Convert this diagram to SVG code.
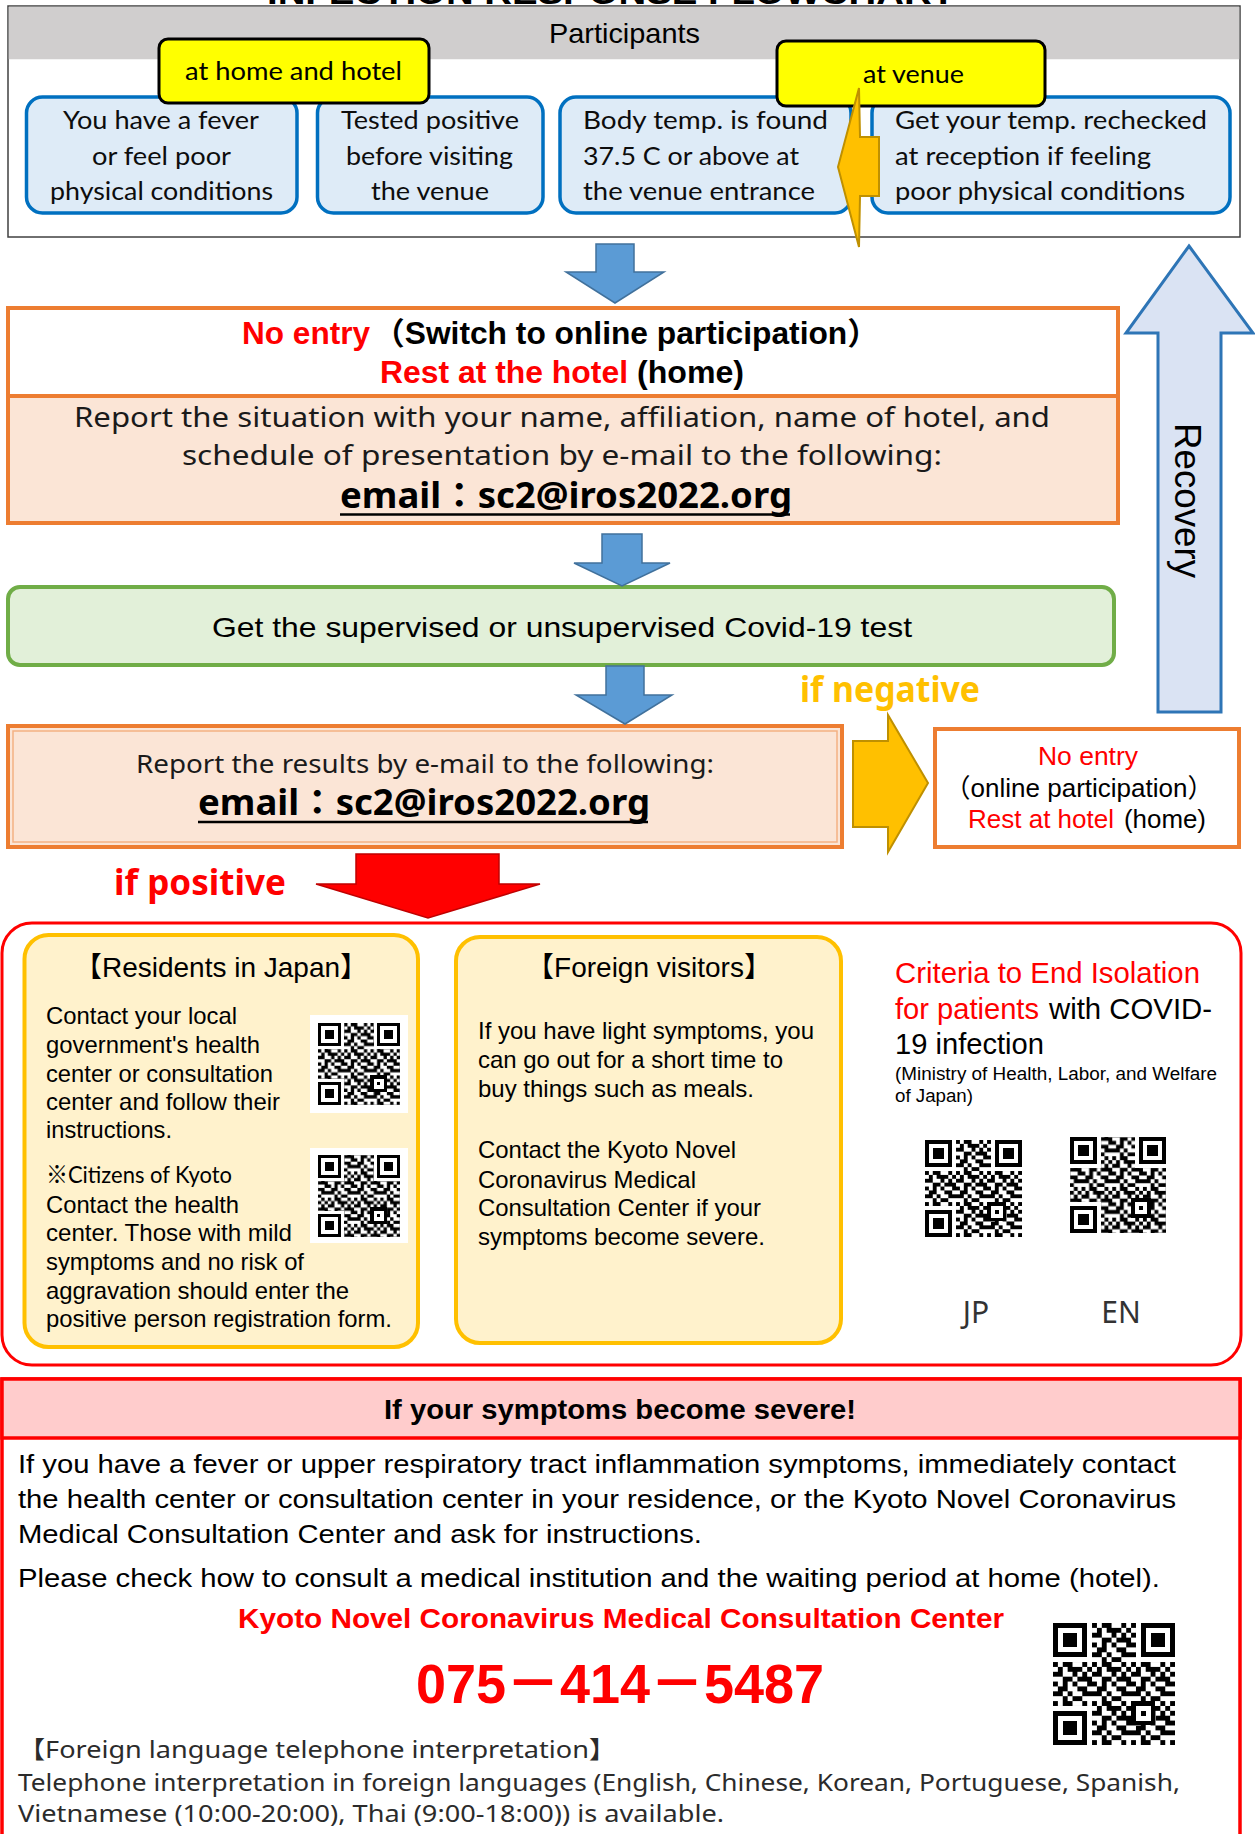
<svg xmlns="http://www.w3.org/2000/svg" width="1255" height="1834" viewBox="0 0 1255 1834">
<style>
.ar{font-family:"Liberation Sans",Arial,"Noto Sans CJK JP",sans-serif}
.cal{font-family:Lato,"Open Sans","Noto Sans CJK JP",sans-serif}
.ns{font-family:"Noto Sans","Noto Sans CJK JP",sans-serif}
.b{font-weight:bold}
.red{fill:#FF0000}
.bluebox{fill:#DEEBF7;stroke:#0070C0;stroke-width:3.5}
.ylabel{fill:#FFFF00;stroke:#000;stroke-width:3}
.tb{font-size:25px;fill:#0D0D0D}
.res{font-size:24px;fill:#000}
.ybox{fill:#FFF2CC;stroke:#FFC000;stroke-width:4}
.barrow{fill:#5B9BD5;stroke:#41719C;stroke-width:1.5}
.yarrow{fill:#FFC000;stroke:#BF9000;stroke-width:2}
.gray{fill:#2b2b2b}
</style>
<defs>
<pattern id="qp1" width="8" height="8" patternUnits="userSpaceOnUse">
<path d="M0 0h1v1h-1z M2 0h2v1h-2z M6 0h1v1h-1z M1 1h1v1h-1z M3 1h3v1h-3z M7 1h1v1h-1z M0 2h2v1h-2z M4 2h1v1h-1z M6 2h1v1h-1z M2 3h2v1h-2z M5 3h3v1h-3z M0 4h1v1h-1z M2 4h1v1h-1z M4 4h1v1h-1z M7 4h1v1h-1z M1 5h2v1h-2z M5 5h2v1h-2z M0 6h2v1h-2z M3 6h1v1h-1z M6 6h2v1h-2z M2 7h1v1h-1z M4 7h2v1h-2z" fill="#000"/>
</pattern>
<pattern id="qp2" width="8" height="8" patternUnits="userSpaceOnUse" patternTransform="translate(3 5)">
<path d="M0 0h1v1h-1z M2 0h2v1h-2z M6 0h1v1h-1z M1 1h1v1h-1z M3 1h3v1h-3z M7 1h1v1h-1z M0 2h2v1h-2z M4 2h1v1h-1z M6 2h1v1h-1z M2 3h2v1h-2z M5 3h3v1h-3z M0 4h1v1h-1z M2 4h1v1h-1z M4 4h1v1h-1z M7 4h1v1h-1z M1 5h2v1h-2z M5 5h2v1h-2z M0 6h2v1h-2z M3 6h1v1h-1z M6 6h2v1h-2z M2 7h1v1h-1z M4 7h2v1h-2z" fill="#000"/>
</pattern>
<symbol id="qrA" viewBox="0 0 25 25" shape-rendering="crispEdges">
<rect width="25" height="25" fill="#fff"/>
<rect width="25" height="25" fill="url(#qp1)"/>
<path d="M0 0h8v8h-8z M17 0h8v8h-8z M0 17h8v8h-8z M16 16h5v5h-5z" fill="#fff"/>
<path fill="#000" fill-rule="evenodd" d="M0 0h7v7h-7z M1 1h5v5h-5z M2 2h3v3h-3z M18 0h7v7h-7z M19 1h5v5h-5z M20 2h3v3h-3z M0 18h7v7h-7z M1 19h5v5h-5z M2 20h3v3h-3z M16 16h5v5h-5z M17 17h3v3h-3z M18 18h1v1h-1z"/>
</symbol>
<symbol id="qrB" viewBox="0 0 25 25" shape-rendering="crispEdges">
<rect width="25" height="25" fill="#fff"/>
<rect width="25" height="25" fill="url(#qp2)"/>
<path d="M0 0h8v8h-8z M17 0h8v8h-8z M0 17h8v8h-8z M16 16h5v5h-5z" fill="#fff"/>
<path fill="#000" fill-rule="evenodd" d="M0 0h7v7h-7z M1 1h5v5h-5z M2 2h3v3h-3z M18 0h7v7h-7z M19 1h5v5h-5z M20 2h3v3h-3z M0 18h7v7h-7z M1 19h5v5h-5z M2 20h3v3h-3z M16 16h5v5h-5z M17 17h3v3h-3z M18 18h1v1h-1z"/>
</symbol>
</defs>

<rect width="1255" height="1834" fill="#fff"/>

<text class="ar b" x="267" y="4" font-size="34" textLength="688" lengthAdjust="spacingAndGlyphs">INFECTION RESPONSE FLOWCHART</text>

<g id="participants">
<rect x="8" y="6" width="1232" height="231" fill="#fff" stroke="#404040" stroke-width="1.5"/>
<rect x="8.75" y="6.75" width="1230.5" height="52.5" fill="#D0CECE"/>
<text class="ar" x="549" y="43" font-size="28" textLength="151" lengthAdjust="spacingAndGlyphs">Participants</text>
</g>

<g id="node-fever">
<rect class="bluebox" x="26.5" y="97" width="270.5" height="116" rx="16"/>
<text class="cal tb" x="63" y="129" textLength="196" lengthAdjust="spacingAndGlyphs">You have a fever</text>
<text class="cal tb" x="92" y="165" textLength="139" lengthAdjust="spacingAndGlyphs">or feel poor</text>
<text class="cal tb" x="50" y="200" textLength="223" lengthAdjust="spacingAndGlyphs">physical conditions</text>
</g>
<g id="node-tested">
<rect class="bluebox" x="317.5" y="97" width="225.5" height="116" rx="16"/>
<text class="cal tb" x="341" y="129" textLength="178" lengthAdjust="spacingAndGlyphs">Tested positive</text>
<text class="cal tb" x="346" y="165" textLength="167" lengthAdjust="spacingAndGlyphs">before visiting</text>
<text class="cal tb" x="371" y="200" textLength="118" lengthAdjust="spacingAndGlyphs">the venue</text>
</g>
<g id="node-bodytemp">
<rect class="bluebox" x="560" y="97" width="291" height="116" rx="16"/>
<text class="cal tb" x="583" y="129" textLength="245" lengthAdjust="spacingAndGlyphs">Body temp. is  found</text>
<text class="cal tb" x="583" y="165" textLength="216" lengthAdjust="spacingAndGlyphs">37.5 C or above at</text>
<text class="cal tb" x="583" y="200" textLength="232" lengthAdjust="spacingAndGlyphs">the venue entrance</text>
</g>
<g id="node-recheck">
<rect class="bluebox" x="872" y="97" width="358" height="116" rx="16"/>
<text class="cal tb" x="895" y="129" textLength="312" lengthAdjust="spacingAndGlyphs">Get your temp. rechecked</text>
<text class="cal tb" x="895" y="165" textLength="256" lengthAdjust="spacingAndGlyphs">at reception if feeling</text>
<text class="cal tb" x="895" y="200" textLength="290" lengthAdjust="spacingAndGlyphs">poor physical conditions</text>
</g>
<g id="label-home">
<rect class="ylabel" x="159" y="39" width="270" height="64" rx="9"/>
<text class="cal" x="185" y="80" font-size="25" textLength="217" lengthAdjust="spacingAndGlyphs">at home and hotel</text>
</g>
<g id="label-venue">
<rect class="ylabel" x="777" y="41" width="268" height="65" rx="9"/>
<text class="cal" x="863" y="83" font-size="25" textLength="101" lengthAdjust="spacingAndGlyphs">at venue</text>
</g>

<g id="node-noentry">
<rect x="8" y="308" width="1110" height="88" fill="#fff" stroke="#ED7D31" stroke-width="4"/>
<rect x="8" y="396" width="1110" height="127" fill="#FBE5D6" stroke="#ED7D31" stroke-width="4"/>
<text class="ar b red" x="242" y="344" font-size="31" textLength="128" lengthAdjust="spacingAndGlyphs">No entry</text>
<text class="ar b" x="373" y="344" font-size="31" textLength="506" lengthAdjust="spacingAndGlyphs">（Switch to online participation）</text>
<text class="ar b red" x="380" y="383" font-size="31" textLength="248" lengthAdjust="spacingAndGlyphs">Rest at the hotel</text>
<text class="ar b" x="637" y="383" font-size="31" textLength="107" lengthAdjust="spacingAndGlyphs">(home)</text>
<text class="ns" x="74" y="427" font-size="28" fill="#1a1a1a" textLength="976" lengthAdjust="spacingAndGlyphs">Report the situation with your name, affiliation, name of hotel, and</text>
<text class="ns" x="182" y="465" font-size="28" fill="#1a1a1a" textLength="760" lengthAdjust="spacingAndGlyphs">schedule of presentation by e-mail to the following:</text>
<text class="ns b" x="340" y="508" font-size="35" textLength="452" lengthAdjust="spacingAndGlyphs">email：sc2@iros2022.org</text>
<line x1="340" y1="514.5" x2="790" y2="514.5" stroke="#000" stroke-width="2.5"/>
</g>

<g id="node-test">
<rect x="8" y="587" width="1106" height="78" rx="12" fill="#E2F0D9" stroke="#70AD47" stroke-width="4"/>
<text class="ar" x="212" y="637" font-size="28" textLength="700" lengthAdjust="spacingAndGlyphs">Get the supervised or unsupervised Covid-19 test</text>
</g>

<g id="node-results">
<rect x="8" y="726" width="834" height="121" fill="#FBE5D6" stroke="#ED7D31" stroke-width="4"/>
<rect x="13" y="731" width="824" height="111" fill="none" stroke="#F4B183" stroke-width="1.5"/>
<text class="ns" x="136" y="773" font-size="25" fill="#1a1a1a" textLength="578" lengthAdjust="spacingAndGlyphs">Report the results by e-mail to the following:</text>
<text class="ns b" x="198" y="815" font-size="35" textLength="452" lengthAdjust="spacingAndGlyphs">email：sc2@iros2022.org</text>
<line x1="198" y1="822" x2="648" y2="822" stroke="#000" stroke-width="2.5"/>
</g>

<g id="node-noentry2">
<rect x="935" y="729" width="304" height="118" fill="#fff" stroke="#ED7D31" stroke-width="4"/>
<text class="ar red" x="1038" y="765" font-size="26" textLength="100" lengthAdjust="spacingAndGlyphs">No entry</text>
<text class="ar" x="1079" y="797" font-size="26" text-anchor="middle">（online participation）</text>
<text class="ar red" x="968" y="828" font-size="26" textLength="146" lengthAdjust="spacingAndGlyphs">Rest at hotel</text>
<text class="ar" x="1124" y="828" font-size="26" textLength="82" lengthAdjust="spacingAndGlyphs">(home)</text>
</g>

<g id="node-positive">
<rect x="2" y="923" width="1239" height="442" rx="30" fill="#fff" stroke="#FF0000" stroke-width="3"/>
<g id="node-residents">
<rect class="ybox" x="24.5" y="935" width="393.5" height="412" rx="24"/>
<text class="ar" x="221" y="977" font-size="28" text-anchor="middle">【Residents in Japan】</text>
<text class="ar res" x="46" y="1024" textLength="191" lengthAdjust="spacingAndGlyphs">Contact your local</text>
<text class="ar res" x="46" y="1053" textLength="214" lengthAdjust="spacingAndGlyphs">government's health</text>
<text class="ar res" x="46" y="1082" textLength="227" lengthAdjust="spacingAndGlyphs">center or consultation</text>
<text class="ar res" x="46" y="1110" textLength="234" lengthAdjust="spacingAndGlyphs">center and follow their</text>
<text class="ar res" x="46" y="1138" textLength="126" lengthAdjust="spacingAndGlyphs">instructions.</text>
<text class="cal res" x="46" y="1183" textLength="186" lengthAdjust="spacingAndGlyphs">※Citizens of Kyoto</text>
<text class="ar res" x="46" y="1213" textLength="193" lengthAdjust="spacingAndGlyphs">Contact the health</text>
<text class="ar res" x="46" y="1241" textLength="246" lengthAdjust="spacingAndGlyphs">center. Those with mild</text>
<text class="ar res" x="46" y="1270" textLength="258" lengthAdjust="spacingAndGlyphs">symptoms and no risk of</text>
<text class="ar res" x="46" y="1299" textLength="303" lengthAdjust="spacingAndGlyphs">aggravation should enter the</text>
<text class="ar res" x="46" y="1327" textLength="346" lengthAdjust="spacingAndGlyphs">positive person registration form.</text>
<rect x="310" y="1015" width="98" height="98" fill="#fff"/>
<use href="#qrA" x="318" y="1023" width="82" height="82"/>
<rect x="310" y="1148" width="98" height="95" fill="#fff"/>
<use href="#qrB" x="318" y="1155" width="82" height="82"/>
</g>
<g id="node-foreign">
<rect class="ybox" x="456" y="937" width="385" height="406" rx="24"/>
<text class="ar" x="649" y="977" font-size="28" text-anchor="middle">【Foreign visitors】</text>
<text class="ar res" x="478" y="1039" textLength="336" lengthAdjust="spacingAndGlyphs">If you have light symptoms, you</text>
<text class="ar res" x="478" y="1068" textLength="305" lengthAdjust="spacingAndGlyphs">can go out for a short time to</text>
<text class="ar res" x="478" y="1097" textLength="276" lengthAdjust="spacingAndGlyphs">buy things such as meals.</text>
<text class="ar res" x="478" y="1158" textLength="258" lengthAdjust="spacingAndGlyphs">Contact the Kyoto Novel</text>
<text class="ar res" x="478" y="1188" textLength="218" lengthAdjust="spacingAndGlyphs">Coronavirus Medical</text>
<text class="ar res" x="478" y="1216" textLength="283" lengthAdjust="spacingAndGlyphs">Consultation Center if your</text>
<text class="ar res" x="478" y="1245" textLength="287" lengthAdjust="spacingAndGlyphs">symptoms become severe.</text>
</g>
<g id="node-criteria">
<text class="ar red" x="895" y="983" font-size="29" textLength="305" lengthAdjust="spacingAndGlyphs">Criteria to End Isolation</text>
<text class="ar red" x="895" y="1019" font-size="29" textLength="144" lengthAdjust="spacingAndGlyphs">for patients</text>
<text class="ar" x="1049" y="1019" font-size="29" textLength="163" lengthAdjust="spacingAndGlyphs">with COVID-</text>
<text class="ar" x="895" y="1054" font-size="29" textLength="149" lengthAdjust="spacingAndGlyphs">19 infection</text>
<text class="ar" x="895" y="1080" font-size="17.5" textLength="322" lengthAdjust="spacingAndGlyphs">(Ministry of Health, Labor, and Welfare</text>
<text class="ar" x="895" y="1102" font-size="17.5" textLength="78" lengthAdjust="spacingAndGlyphs">of Japan)</text>
<use href="#qrA" x="925" y="1140" width="97" height="97"/>
<use href="#qrB" x="1070" y="1137" width="96" height="96"/>
<text class="ns" x="976" y="1323" font-size="30" fill="#333" text-anchor="middle">JP</text>
<text class="ns" x="1121" y="1323" font-size="30" fill="#333" text-anchor="middle">EN</text>
</g>
</g>

<g id="node-severe">
<rect x="2" y="1379" width="1238" height="480" fill="#fff" stroke="#FF0000" stroke-width="3.5"/>
<rect x="2" y="1379" width="1238" height="59" fill="#FFCCCC" stroke="#FF0000" stroke-width="3.5"/>
<text class="ar b" x="384" y="1419" font-size="27" textLength="472" lengthAdjust="spacingAndGlyphs">If your symptoms become severe!</text>
<text class="ar" x="18" y="1473" font-size="26" textLength="1158" lengthAdjust="spacingAndGlyphs">If you have a fever or upper respiratory tract inflammation symptoms, immediately contact</text>
<text class="ar" x="18" y="1508" font-size="26" textLength="1158" lengthAdjust="spacingAndGlyphs">the health center or consultation center in your residence, or the Kyoto Novel Coronavirus</text>
<text class="ar" x="18" y="1543" font-size="26" textLength="684" lengthAdjust="spacingAndGlyphs">Medical Consultation Center and ask for instructions.</text>
<text class="ar" x="18" y="1587" font-size="26" textLength="1142" lengthAdjust="spacingAndGlyphs">Please check how to consult a medical institution and the waiting period at home (hotel).</text>
<text class="ar b red" x="238" y="1628" font-size="27" textLength="766" lengthAdjust="spacingAndGlyphs">Kyoto Novel Coronavirus Medical Consultation Center</text>
<text class="ar b red" x="416" y="1703" font-size="56" textLength="408" lengthAdjust="spacingAndGlyphs">075－414－5487</text>
<use href="#qrA" x="1053" y="1623" width="122" height="122"/>
<text class="ns gray" x="18" y="1758" font-size="24" textLength="598" lengthAdjust="spacingAndGlyphs">【Foreign language telephone interpretation】</text>
<text class="ns gray" x="18" y="1791" font-size="24" textLength="1162" lengthAdjust="spacingAndGlyphs">Telephone interpretation in foreign languages (English, Chinese, Korean, Portuguese, Spanish,</text>
<text class="ns gray" x="18" y="1822" font-size="24" textLength="706" lengthAdjust="spacingAndGlyphs">Vietnamese (10:00-20:00), Thai (9:00-18:00)) is available.</text>
</g>

<g id="connectors">
<polygon class="yarrow" points="859,88 838,167 859,247 860,196 879,196 879,137 860,137" stroke-width="1.5"/>
<polygon class="barrow" points="596,244 634,244 634,272 664,272 615,303 566,272 596,272"/>
<polygon class="barrow" points="602,534 642,534 642,563 670,563 622,586 574,563 602,563"/>
<polygon class="barrow" points="606,666 644,666 644,695 672,695 625,724 576,695 606,695"/>
<polygon class="yarrow" points="853,741 888,741 888,715 928,783 888,852 888,827 853,827"/>
<text class="ns b" x="800" y="702" font-size="36" fill="#FFC000" textLength="180" lengthAdjust="spacingAndGlyphs">if negative</text>
<polygon points="356,854 499,854 499,884 540,884 428,918 316,884 356,884" fill="#FF0000" stroke="#C00000" stroke-width="1.5"/>
<text class="ns b red" x="114" y="895" font-size="36" textLength="172" lengthAdjust="spacingAndGlyphs">if positive</text>
<polygon points="1189,246 1253,333 1221,333 1221,712 1158,712 1158,333 1126,333" fill="#DAE3F3" stroke="#2E75B6" stroke-width="3"/>
<text class="ar" transform="translate(1175,423) rotate(90)" font-size="37" textLength="155" lengthAdjust="spacingAndGlyphs">Recovery</text>
</g>
</svg>
